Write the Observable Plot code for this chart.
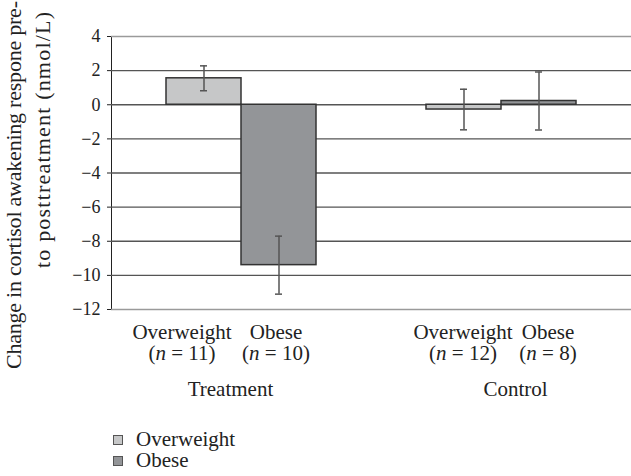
<!DOCTYPE html>
<html><head><meta charset="utf-8">
<script src="https://cdn.jsdelivr.net/npm/d3@7"></script>
<script src="https://cdn.jsdelivr.net/npm/@observablehq/plot@0.6"></script>
<style>
body{margin:0;background:#fff;font-family:"Liberation Serif",serif;}
svg, svg text, svg tspan{font-family:"Liberation Serif",serif !important;}
#legend{margin-left:113px;margin-top:19px;font-size:21px;color:#222}
.row{display:flex;align-items:center;height:21px}
.sw{width:8px;height:8px;border:1px solid #555;margin-right:13px}
</style></head><body>
<div id="chart"></div>
<div id="legend"></div>
<script>
const groups = ["Treatment", "Control"];
const categories = ["Overweight", "Obese"];
const nLabels = [["(n = 11)", "(n = 10)"], ["(n = 12)", "(n = 8)"]];
const values = [[1.55, -9.4], [-0.28, 0.22]];
const errors = [[0.73, 1.7], [1.19, 1.7]];
const yTicks = [4, 2, 0, -2, -4, -6, -8, -10, -12];
const colors = ["#c6c7c8", "#939598"];
const yTitle = ["Change in cortisol awakening respone pre-", "to posttreatment (nmol/L)"];

const data = groups.flatMap((g, i) => categories.map((c, j) => ({
  group: g, cat: c, value: values[i][j], err: errors[i][j], n: nLabels[i][j]
})));

// label nudges (layout only)
const catShift = [[-22, -3], [-1, 9]];
const groupShift = [-11, 14];

const labelMarks = [];
groups.forEach((g, i) => {
  categories.forEach((c, j) => {
    const sub = data.filter(d => d.group === g && d.cat === c);
    labelMarks.push(Plot.text(sub, {fx: "group", x: "cat", text: "cat", frameAnchor: "bottom", lineAnchor: "bottom", dy: 29, dx: catShift[i][j], fontSize: 21}));
    labelMarks.push(Plot.text(sub, {fx: "group", x: "cat", text: "n", frameAnchor: "bottom", lineAnchor: "bottom", dy: 50, dx: catShift[i][j], fontSize: 21}));
  });
  labelMarks.push(Plot.text([g], {fx: d => d, text: d => d, frameAnchor: "bottom", lineAnchor: "bottom", dy: 86, dx: groupShift[i], fontSize: 21}));
});

const plot = Plot.plot({
  width: 631, height: 410,
  marginLeft: 111, marginRight: 0, marginTop: 36, marginBottom: 101,
  style: {fontFamily: "Liberation Serif", fontSize: "18px", color: "#222", background: "#fff"},
  fx: {domain: groups, padding: 0, axis: null},
  x: {domain: categories, paddingInner: 0, paddingOuter: 0.72, axis: null},
  y: {domain: [-12, 4], ticks: yTicks, tickSize: 4, tickPadding: 7, line: true, label: null},
  color: {domain: categories, range: colors},
  marks: [
    Plot.ruleY(yTicks, {stroke: d => (d === 4 || d === -12) ? "#9a9a9a" : "#555", strokeWidth: 1.3}),
    Plot.barY(data, {fx: "group", x: "cat", y: "value", fill: "cat", stroke: "#333", strokeWidth: 1.5}),
    Plot.ruleX(data, {fx: "group", x: "cat", y1: d => d.value - d.err, y2: d => d.value + d.err, stroke: "#555", strokeWidth: 1.5}),
    Plot.tickY(data, {fx: "group", x: "cat", y: d => d.value + d.err, insetLeft: 34, insetRight: 34, stroke: "#555", strokeWidth: 1.5}),
    Plot.tickY(data, {fx: "group", x: "cat", y: d => d.value - d.err, insetLeft: 34, insetRight: 34, stroke: "#555", strokeWidth: 1.5}),
    ...labelMarks
  ]
});

const svg = d3.select(plot);

// force serif font on every text, and size the y tick labels
svg.selectAll("text").each(function () {
  this.style.setProperty("font-family", '"Liberation Serif", serif', "important");
  this.style.setProperty("font-variant", "normal");
});
svg.selectAll('[aria-label="y-axis tick label"] text, [aria-label="y-axis tick label"]')
  .each(function () { this.style.setProperty("font-size", "18px", "important"); });

// italic n in sample-size labels
svg.selectAll("text").each(function () {
  const t = this.textContent;
  if (/^\(n = /.test(t) && this.children.length === 0) {
    const rest = t.slice(2);
    this.textContent = "";
    const s = d3.select(this);
    s.append("tspan").text("(");
    s.append("tspan").attr("font-style", "italic").text("n");
    s.append("tspan").text(rest);
  }
});

// rotated two-line y-axis title
const tx = [21, 50], ty = [369, 268], tl = [368, 256];
yTitle.forEach((t, i) => {
  svg.append("text")
    .attr("transform", `translate(${tx[i]},${ty[i]}) rotate(-90)`)
    .attr("text-anchor", "start")
    .attr("font-size", 22).attr("fill", "#222")
    .style("font-family", '"Liberation Serif", serif')
    .attr("textLength", tl[i]).attr("lengthAdjust", "spacing")
    .text(t);
});

document.getElementById("chart").append(plot);

const legend = d3.select("#legend");
categories.forEach((c, i) => {
  const row = legend.append("div").attr("class", "row");
  row.append("div").attr("class", "sw").style("background", colors[i]);
  row.append("span").text(c);
});
</script>
</body></html>
